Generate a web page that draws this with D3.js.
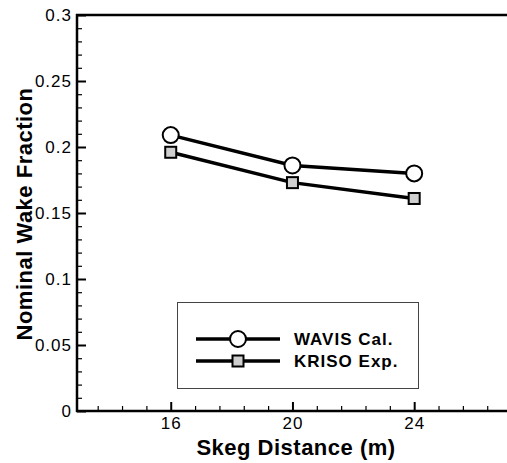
<!DOCTYPE html>
<html lang="en">
<head>
    <meta charset="UTF-8">
    <title>Nominal Wake Fraction</title>
    <script src="https://cdnjs.cloudflare.com/ajax/libs/d3/7.8.5/d3.min.js"></script>
    <style>
        body {
            margin: 0;
            background-color: white;
        }
        svg {
            display: block;
            font-family: "Liberation Sans", Arial, sans-serif;
        }
        .tick text {
            font-size: 17px;
            letter-spacing: 1px;
            fill: black;
        }
        .axis-title {
            font-size: 22px;
            font-weight: bold;
            letter-spacing: 0.5px;
        }
        .legend-text {
            font-size: 17px;
            font-weight: bold;
            letter-spacing: 1px;
        }
    </style>
</head>
<body>
    <svg id="chart" width="507" height="463"></svg>

    <script>
        // Data
        const distances = [16, 20, 24];
        const wavisCal = [0.209, 0.186, 0.180];
        const krisoExp = [0.196, 0.173, 0.161];
        const seriesNames = ["WAVIS Cal.", "KRISO Exp."];
        const xMajorTicks = [16, 20, 24];
        const yMajorTicks = [0, 0.05, 0.1, 0.15, 0.2, 0.25, 0.3];
        const yTickLabels = ["0", "0.05", "0.1", "0.15", "0.2", "0.25", "0.3"];

        const svg = d3.select("#chart");

        const x = d3.scaleLinear().domain([12.92, 27.05]).range([77, 507]);
        const y = d3.scaleLinear().domain([0, 0.3]).range([411, 15]);

        // Minor ticks
        const xMinor = d3.range(-4, 15).map(k => 16 + k * 0.8).filter(v => v > 12.95 && v < 27 && !xMajorTicks.some(m => Math.abs(m - v) < 1e-6));
        const yMinor = d3.range(0, 31).map(k => k / 100).filter(v => !yMajorTicks.some(m => Math.abs(m - v) < 1e-6));

        svg.append("g")
            .attr("transform", "translate(0,411)")
            .call(d3.axisBottom(x).tickValues(xMinor).tickSize(-5).tickFormat(""))
            .call(g => g.select(".domain").remove())
            .call(g => g.selectAll("line").attr("stroke-width", 1.2));

        svg.append("g")
            .attr("transform", "translate(77,0)")
            .call(d3.axisLeft(y).tickValues(yMinor).tickSize(-5).tickFormat(""))
            .call(g => g.select(".domain").remove())
            .call(g => g.selectAll("line").attr("stroke-width", 1.2));

        // Major axes
        svg.append("g")
            .attr("transform", "translate(0,411)")
            .call(d3.axisBottom(x).tickValues(xMajorTicks).tickSize(-9).tickPadding(6).tickFormat(d3.format("d")))
            .call(g => g.select(".domain").remove())
            .call(g => g.selectAll("line").attr("stroke-width", 2))
            .call(g => g.selectAll("text").attr("font-family", null).attr("font-size", null));

        svg.append("g")
            .attr("transform", "translate(77,0)")
            .call(d3.axisLeft(y).tickValues(yMajorTicks).tickSize(-9).tickPadding(5)
                .tickFormat((d, i) => yTickLabels[i]))
            .call(g => g.select(".domain").remove())
            .call(g => g.selectAll("line").attr("stroke-width", 2))
            .call(g => g.selectAll("text").attr("font-family", null).attr("font-size", null));

        // Frame lines (left, bottom, top)
        svg.append("line").attr("x1", 77).attr("x2", 77).attr("y1", 14).attr("y2", 412)
            .attr("stroke", "black").attr("stroke-width", 2.5);
        svg.append("line").attr("x1", 76).attr("x2", 507).attr("y1", 411).attr("y2", 411)
            .attr("stroke", "black").attr("stroke-width", 2.5);
        svg.append("line").attr("x1", 76).attr("x2", 507).attr("y1", 15).attr("y2", 15)
            .attr("stroke", "black").attr("stroke-width", 2.5);

        // Axis titles
        svg.append("text")
            .attr("class", "axis-title")
            .attr("x", 296).attr("y", 455)
            .attr("text-anchor", "middle")
            .text("Skeg Distance (m)");

        svg.append("text")
            .attr("class", "axis-title")
            .attr("transform", "translate(32,214) rotate(-90)")
            .attr("text-anchor", "middle")
            .text("Nominal Wake Fraction");

        // Series
        const line = d3.line().x(d => x(d[0])).y(d => y(d[1]));
        const wavisPts = distances.map((d, i) => [d, wavisCal[i]]);
        const krisoPts = distances.map((d, i) => [d, krisoExp[i]]);

        [wavisPts, krisoPts].forEach(pts => {
            svg.append("path")
                .datum(pts)
                .attr("d", line)
                .attr("fill", "none")
                .attr("stroke", "black")
                .attr("stroke-width", 3.5);
        });

        function drawCircle(g, cx, cy) {
            g.append("circle")
                .attr("cx", cx).attr("cy", cy).attr("r", 8)
                .attr("fill", "white").attr("stroke", "black").attr("stroke-width", 2);
        }
        function drawSquare(g, cx, cy) {
            g.append("rect")
                .attr("x", cx - 5.5).attr("y", cy - 5.5)
                .attr("width", 11).attr("height", 11)
                .attr("fill", "#cfcfcf").attr("stroke", "black").attr("stroke-width", 2);
        }

        wavisPts.forEach(p => drawCircle(svg, x(p[0]), y(p[1])));
        krisoPts.forEach(p => drawSquare(svg, x(p[0]), y(p[1])));

        // Legend
        const legend = svg.append("g");
        legend.append("rect")
            .attr("x", 177.5).attr("y", 302.5)
            .attr("width", 241).attr("height", 86)
            .attr("fill", "white").attr("stroke", "#444").attr("stroke-width", 1);

        const legendRows = [339, 361];
        seriesNames.forEach((name, i) => {
            const ly = legendRows[i];
            legend.append("line")
                .attr("x1", 196).attr("x2", 280).attr("y1", ly).attr("y2", ly)
                .attr("stroke", "black").attr("stroke-width", 3.5);
            if (i === 0) drawCircle(legend, 238, ly);
            else drawSquare(legend, 238, ly);
            legend.append("text")
                .attr("class", "legend-text")
                .attr("x", 294).attr("y", ly + 6)
                .text(name);
        });
    </script>
</body>
</html>
